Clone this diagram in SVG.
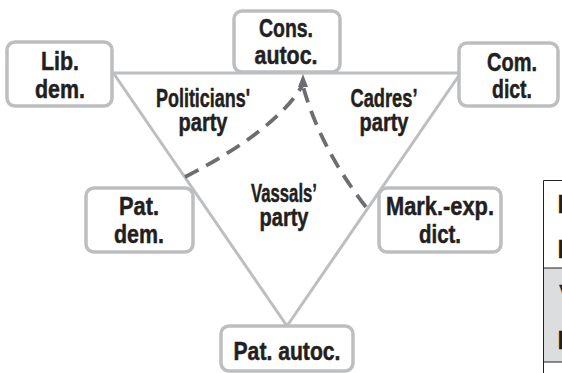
<svg xmlns="http://www.w3.org/2000/svg" width="562" height="373" viewBox="0 0 562 373">
<style>
.box{fill:#fff;stroke:#bcbec0;stroke-width:3.5}
.edge{fill:none;stroke:#bcbec0;stroke-width:3}
.dash{fill:none;stroke:#6d6e71;stroke-width:3.8;stroke-dasharray:15 9}
text{font-family:"Liberation Sans",Arial,sans-serif;font-weight:bold;font-size:26px;fill:#231f20;stroke:#231f20;stroke-width:0.5;text-anchor:middle}
.tb{stroke:#231f20;stroke-width:1;fill:none}
</style>
<rect width="562" height="373" fill="#fff"/>
<g id="edges">
<path class="edge" d="M112,73 L459,73"/>
<path class="edge" d="M114,74 L287,326"/>
<path class="edge" d="M460,74 L287,326"/>
</g>
<g id="connectors">
<path class="dash" d="M185,177 Q276,130 302,86"/>
<path class="dash" d="M366,207 Q320,148 303,86"/>
<path d="M303,74 L298,87 L308,87 Z" fill="#6d6e71"/>
</g>
<g id="party-labels">
<text x="203" y="107" textLength="94" lengthAdjust="spacingAndGlyphs">Politicians'</text>
<text x="203" y="131" textLength="49" lengthAdjust="spacingAndGlyphs">party</text>
<text x="384" y="107" textLength="67" lengthAdjust="spacingAndGlyphs">Cadres’</text>
<text x="384" y="131" textLength="49" lengthAdjust="spacingAndGlyphs">party</text>
<text x="284" y="202" textLength="66" lengthAdjust="spacingAndGlyphs">Vassals’</text>
<text x="284" y="226" textLength="49" lengthAdjust="spacingAndGlyphs">party</text>
</g>
<g id="lib-dem">
<rect class="box" x="7" y="42" width="105" height="64" rx="8"/>
<text x="60" y="70" textLength="38" lengthAdjust="spacingAndGlyphs">Lib.</text>
<text x="60" y="98" textLength="50" lengthAdjust="spacingAndGlyphs">dem.</text>
</g>
<g id="cons-autoc">
<rect class="box" x="234" y="11" width="106" height="61" rx="8"/>
<text x="286" y="37" textLength="54" lengthAdjust="spacingAndGlyphs">Cons.</text>
<text x="286" y="64" textLength="63" lengthAdjust="spacingAndGlyphs">autoc.</text>
</g>
<g id="com-dict">
<rect class="box" x="459" y="43" width="99" height="63" rx="8"/>
<text x="512" y="71" textLength="50" lengthAdjust="spacingAndGlyphs">Com.</text>
<text x="512" y="98" textLength="40" lengthAdjust="spacingAndGlyphs">dict.</text>
</g>
<g id="pat-dem">
<rect class="box" x="86" y="188" width="107" height="64" rx="8"/>
<text x="139" y="215" textLength="40" lengthAdjust="spacingAndGlyphs">Pat.</text>
<text x="139" y="243" textLength="50" lengthAdjust="spacingAndGlyphs">dem.</text>
</g>
<g id="mark-exp-dict">
<rect class="box" x="379" y="188" width="122" height="64" rx="8"/>
<text x="440" y="215" textLength="108" lengthAdjust="spacingAndGlyphs">Mark.-exp.</text>
<text x="440" y="243" textLength="42" lengthAdjust="spacingAndGlyphs">dict.</text>
</g>
<g id="pat-autoc">
<rect class="box" x="221" y="326" width="132" height="45" rx="8"/>
<text x="287" y="360" textLength="107" lengthAdjust="spacingAndGlyphs">Pat. autoc.</text>
</g>
<g id="table-fragment">
<rect x="543.5" y="268" width="20" height="94" fill="#dcddde"/>
<path class="tb" d="M543.5,373 L543.5,180.5 L562,180.5 M543.5,268 L562,268 M543.5,362 L562,362"/>
<text x="561" y="213">I</text>
<text x="561" y="258">I</text>
<text x="568" y="303">V</text>
<text x="561" y="349">I</text>
</g>
</svg>
